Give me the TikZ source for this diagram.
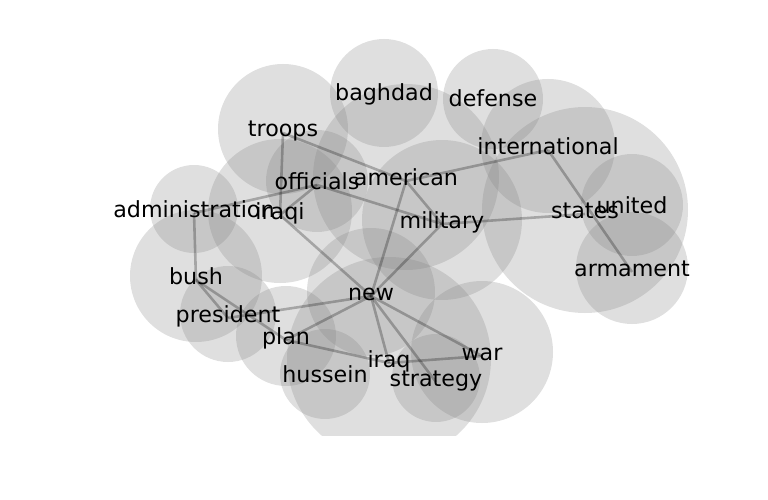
\documentclass[tikz,border=0pt]{standalone}
\usepackage{fontspec}
\setmainfont{DejaVu Sans}
\begin{document}
\begin{tikzpicture}[x=1pt,y=-1pt,
  blob/.style={fill=gray, fill opacity=0.25, draw=none},
  link/.style={draw=black, draw opacity=0.26, line width=2.6pt},
  word/.style={font=\fontsize{22.2}{26}\selectfont, inner sep=0pt, anchor=base, text=black}]
\useasboundingbox (0,0) rectangle (768,500);
\def\nodelist{baghdad/384/93/54, defense/493/99/50, troops/283/129/65,
  international/548/146/67, american/406/177/93, officials/317/181/51,
  iraqi/280/211/72, administration/194/209/44, military/442/220/80,
  states/585/210/103, united/632/205/51, armament/632/268/56,
  bush/196/276/66, president/228/314/48, new/371/292/64, plan/286/336/50,
  hussein/325/374/45, iraq/389/359/102, war/482/352/71, strategy/436/378/44}
\begin{scope}
  \clip (0,0) rectangle (768,435);
  \foreach \n/\x/\y/\r in \nodelist {
    \fill[blob] (\x,\y) circle[radius=\r];
  }
\end{scope}
\foreach \n/\x/\y/\r in \nodelist {
  \coordinate (\n) at (\x,\y+4);
}
\foreach \a/\b in {troops/iraqi, troops/american, administration/officials,
  officials/iraqi, officials/military, american/new, american/military,
  american/international, international/armament, military/states,
  military/new, iraqi/new, administration/bush, bush/president, bush/plan,
  president/new, new/plan, plan/iraq, new/iraq, new/strategy, new/war,
  iraq/war} {
  \draw[link] (\a) -- (\b);
}
\foreach \n/\x/\y/\r in \nodelist {
  \node[word] (t-\n) at (\x,\y+8) {\n};
}
\end{tikzpicture}
\end{document}
